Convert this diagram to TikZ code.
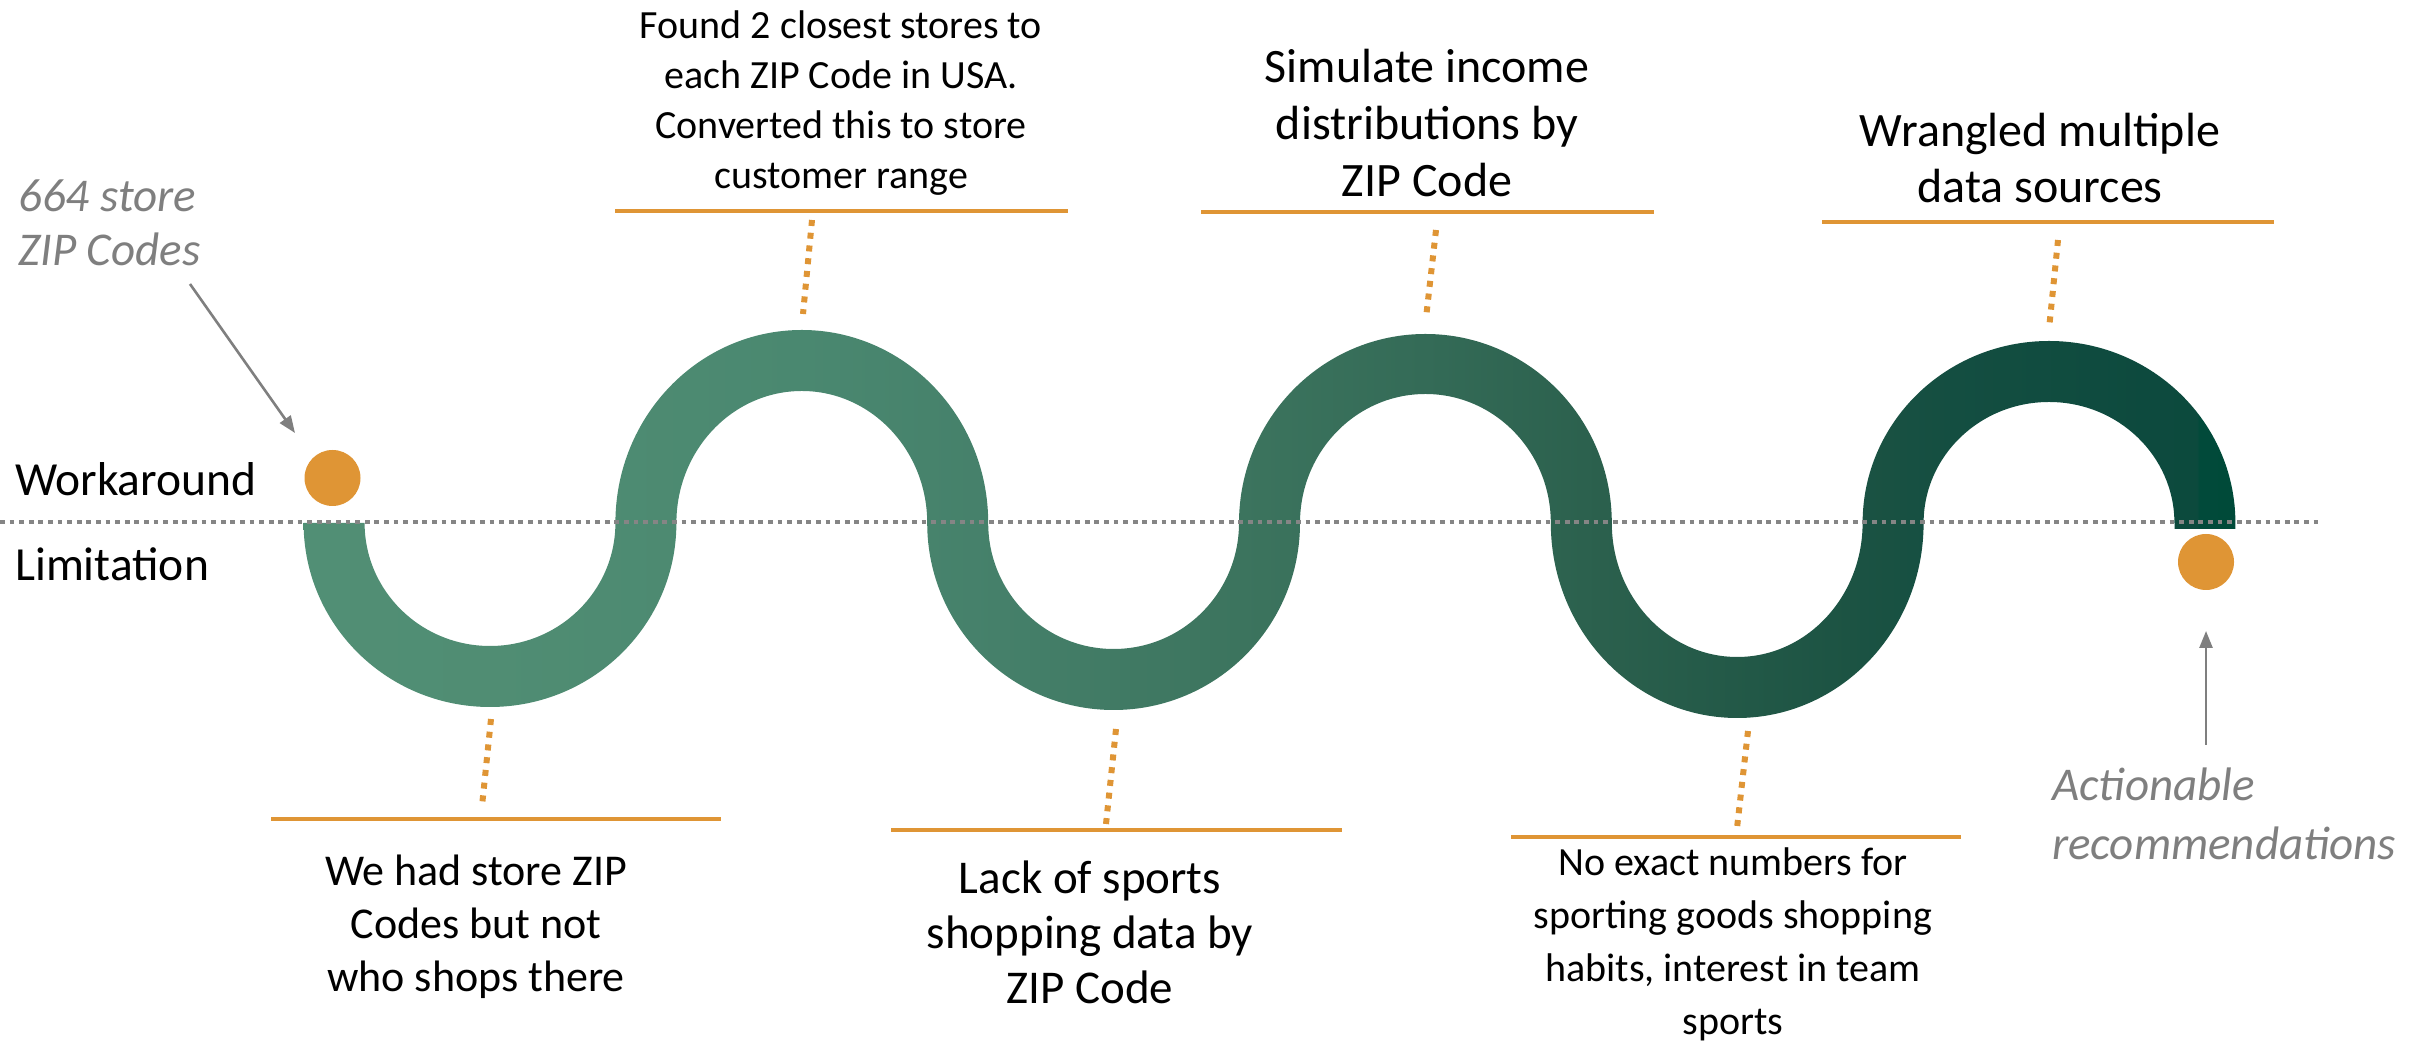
\documentclass[tikz,border=0pt]{standalone}
\usepackage{fontspec}
\setmainfont{Carlito}
\usetikzlibrary{arrows.meta}

\definecolor{accent}{HTML}{DF9535}
\definecolor{notegray}{HTML}{7F7F7F}
\definecolor{rulegray}{HTML}{858585}
\definecolor{trackA}{HTML}{518F75}
\definecolor{trackB}{HTML}{508D73}
\definecolor{trackC}{HTML}{4A8870}
\definecolor{trackD}{HTML}{45806A}
\definecolor{trackE}{HTML}{3C745E}
\definecolor{trackF}{HTML}{346B57}
\definecolor{trackG}{HTML}{2B604D}
\definecolor{trackH}{HTML}{1C5343}
\definecolor{trackI}{HTML}{144E41}
\definecolor{trackJ}{HTML}{0D4A3E}
\definecolor{trackK}{HTML}{0C4A3D}
\definecolor{trackL}{HTML}{014A3A}
\definecolor{trackM}{HTML}{004A39}

% light-to-dark green along the winding track
\pgfdeclarehorizontalshading{trackshade}{100bp}{color(0bp)=(trackA); color(25bp)=(trackA); color(29.82bp)=(trackB); color(37.92bp)=(trackC); color(43.02bp)=(trackD); color(49.23bp)=(trackE); color(54.02bp)=(trackF); color(58.55bp)=(trackG); color(65.02bp)=(trackH); color(67.61bp)=(trackI); color(72.79bp)=(trackJ); color(74bp)=(trackK); color(74.06bp)=(trackL); color(75bp)=(trackM); color(100bp)=(trackM)}

% half rings of the track: centre x, outer and inner vertical radius
\newcommand\trackdip[3]{(#1-186.4,520) arc[start angle=180,end angle=360,x radius=186.4pt,y radius=#2pt] -- (#1+125.4,520) arc[start angle=0,end angle=-180,x radius=125.4pt,y radius=#3pt] -- cycle}
\newcommand\trackarch[3]{(#1-186.4,520) arc[start angle=180,end angle=0,x radius=186.4pt,y radius=#2pt] -- (#1+125.4,520) arc[start angle=0,end angle=180,x radius=125.4pt,y radius=#3pt] -- cycle}

\begin{document}
\begin{tikzpicture}[x=1pt,y=1pt,
  rulestyle/.style={accent, line width=4.6pt},
  leader/.style={accent, line width=6pt, dash pattern=on 6pt off 6.8pt},
  pointer/.style={notegray, line width=2.6pt, -{Triangle[length=17pt,width=13pt]}},
  milestone/.style={circle, fill=accent, minimum size=56pt, inner sep=0pt},
  caption/.style={align=center, inner sep=0pt},
  sidenote/.style={align=left, inner sep=0pt, text=notegray, anchor=west},
  axislabel/.style={anchor=west, inner sep=0pt, font=\fontsize{47.5}{56}\selectfont}]
\useasboundingbox (0,0) rectangle (2425,1043);

% the winding track
\shade[shading=trackshade] \trackdip{490}{184}{123} \trackarch{801.8}{193}{132} \trackdip{1113.6}{187}{126} \trackarch{1425.4}{189}{129} \trackdip{1737.2}{195}{134} \trackarch{2049}{182}{121} (2174.6,520) rectangle (2235.4,514);

% dotted base line
\coordinate (lineL) at (0,521);
\coordinate (lineR) at (2321,521);
\draw[rulegray, line width=4pt, dash pattern=on 4.8pt off 4.8pt] (lineL) -- (lineR);

% end points
\node[milestone] (start) at (332.5,565) {};
\node[milestone] (finish) at (2206,481) {};

% row labels
\node[axislabel] (workaround) at (15,563.5) {Workaround};
\node[axislabel] (limitation) at (15,478.5) {Limitation};

% side notes with pointers
\node[sidenote, font=\itshape\fontsize{47}{54}\selectfont] (zipnote) at (18,820) {664 store\\ZIP Codes};
\node[sidenote, font=\itshape\fontsize{47}{59}\selectfont] (recnote) at (2052,229.5) {Actionable\\recommendations};
\coordinate (zipfrom) at (190,759);
\coordinate (zipto) at (295,610);
\draw[pointer] (zipfrom) -- (zipto);
\coordinate (recfrom) at (2206,298);
\coordinate (recto) at (2206,412);
\draw[pointer] (recfrom) -- (recto);

% workaround captions above the arches
\node[caption, font=\fontsize{40}{50}\selectfont] (wa1) at (841,939.5) {Found 2 closest stores to\\each ZIP Code in USA.\\Converted this to store\\customer range};
\node[caption, font=\fontsize{48}{57}\selectfont] (wa2) at (1427,920) {Simulate income\\distributions by\\ZIP Code};
\node[caption, font=\fontsize{48}{56}\selectfont] (wa3) at (2040,885) {Wrangled multiple\\data sources};

% limitation captions below the dips
\node[caption, font=\fontsize{44}{53}\selectfont] (li1) at (476,116) {We had store ZIP\\Codes but not\\who shops there};
\node[caption, font=\fontsize{47}{55}\selectfont] (li2) at (1090,111) {Lack of sports\\shopping data by\\ZIP Code};
\node[caption, font=\fontsize{40}{53}\selectfont] (li3) at (1733,98.5) {No exact numbers for\\sporting goods shopping\\habits, interest in team\\sports};

% caption rules
\coordinate (wr1a) at (615,832);  \coordinate (wr1b) at (1068,832);
\coordinate (wr2a) at (1201,831); \coordinate (wr2b) at (1654,831);
\coordinate (wr3a) at (1822,821); \coordinate (wr3b) at (2274,821);
\coordinate (lr1a) at (271,224);  \coordinate (lr1b) at (721,224);
\coordinate (lr2a) at (891,213);  \coordinate (lr2b) at (1342,213);
\coordinate (lr3a) at (1511,206); \coordinate (lr3b) at (1961,206);
\draw[rulestyle] (wr1a) -- (wr1b);
\draw[rulestyle] (wr2a) -- (wr2b);
\draw[rulestyle] (wr3a) -- (wr3b);
\draw[rulestyle] (lr1a) -- (lr1b);
\draw[rulestyle] (lr2a) -- (lr2b);
\draw[rulestyle] (lr3a) -- (lr3b);

% dashed leaders between rules and track
\coordinate (wl1a) at (812,823);  \coordinate (wl1b) at (803,729);
\coordinate (wl2a) at (1436,813); \coordinate (wl2b) at (1426,725);
\coordinate (wl3a) at (2058,803); \coordinate (wl3b) at (2049,714);
\coordinate (ll1a) at (491,324);  \coordinate (ll1b) at (482,237);
\coordinate (ll2a) at (1116,314); \coordinate (ll2b) at (1106,219);
\coordinate (ll3a) at (1748,312); \coordinate (ll3b) at (1737,215);
\draw[leader] (wl1a) -- (wl1b);
\draw[leader] (wl2a) -- (wl2b);
\draw[leader] (wl3a) -- (wl3b);
\draw[leader] (ll1a) -- (ll1b);
\draw[leader] (ll2a) -- (ll2b);
\draw[leader] (ll3a) -- (ll3b);
\end{tikzpicture}
\end{document}
